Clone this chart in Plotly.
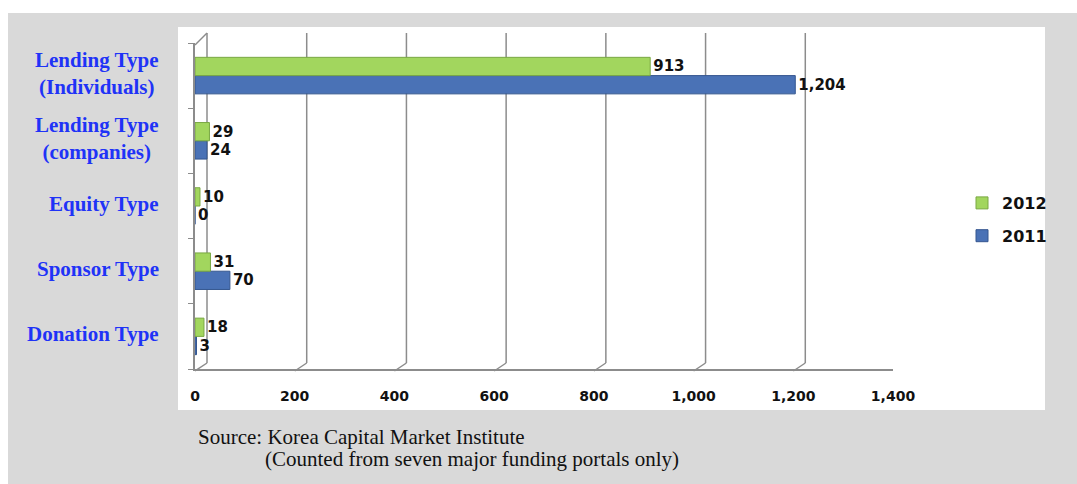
import plotly.graph_objects as go

categories = ["Lending Type<br>(Individuals)", "Lending Type<br>(companies)", "Equity Type", "Sponsor Type", "Donation Type"]
values_2012 = [913, 29, 10, 31, 18]
values_2011 = [1204, 24, 0, 70, 3]
x_ticks = [0, 200, 400, 600, 800, 1000, 1200, 1400]

W, H = 1077, 484
def px(x): return x / W
def py(y): return 1 - y / H

GREEN = "#a2d65e"
BLUE = "#4a72b6"
GRID = "#8c8c8c"

# reversed so first category is on top
cats_r = categories[::-1]
v12 = values_2012[::-1]
v11 = values_2011[::-1]

label_font = dict(family="DejaVu Sans", size=15, color="#111", weight="bold")

fig = go.Figure()
fig.add_trace(go.Bar(
    y=cats_r, x=v11, orientation="h", name="2011", legendgroup="b", legendrank=2,
    marker=dict(color=BLUE, line=dict(color="#34568f", width=1)),
    texttemplate="%{x:,}", textposition="outside", cliponaxis=False,
    textfont=label_font,
))
fig.add_trace(go.Bar(
    y=cats_r, x=v12, orientation="h", name="2012", legendgroup="a", legendrank=1,
    marker=dict(color=GREEN, line=dict(color="#7aa844", width=1)),
    texttemplate="%{x:,}", textposition="outside", cliponaxis=False,
    textfont=label_font,
))

X0, X1 = 195, 893          # front axis pixel span
DX, DY = 12, 8             # 3D depth offset of back wall
unit = 1400 / (X1 - X0)

shapes = [
    dict(type="rect", xref="paper", yref="paper", x0=px(8), x1=1, y0=0, y1=py(13),
         fillcolor="#d9d9d9", line=dict(width=0), layer="below"),
    dict(type="rect", xref="paper", yref="paper", x0=px(178), x1=px(1045), y0=py(410), y1=py(27),
         fillcolor="white", line=dict(width=0), layer="below"),
    dict(type="line", xref="paper", yref="paper", x0=px(X0), y0=py(45), x1=px(X0 + DX), y1=py(45 - DY - 4),
         line=dict(color=GRID, width=1.5)),
]
for v in x_ticks:
    # back-wall gridline
    shapes.append(dict(type="line", xref="x", yref="paper", x0=v + DX * unit, x1=v + DX * unit,
                       y0=py(371 - DY), y1=py(33), line=dict(color=GRID, width=1.5), layer="below"))
    # floor diagonal
    shapes.append(dict(type="line", xref="x", yref="paper", x0=v, x1=v + DX * unit,
                       y0=py(371), y1=py(371 - DY), line=dict(color=GRID, width=1.5), layer="below"))

annotations = []
for c in categories:
    annotations.append(dict(xref="paper", yref="y", x=px(161), y=c, text=c, showarrow=False,
                            xanchor="right", align="center", yshift=2,
                            font=dict(family="Liberation Serif", size=21, color="#1f33f7", weight="bold")))
annotations.append(dict(xref="paper", yref="paper", x=px(196), y=py(437), text="Source: Korea Capital Market Institute",
                        showarrow=False, xanchor="left", yanchor="middle",
                        font=dict(family="Liberation Serif", size=21, color="#111")))
annotations.append(dict(xref="paper", yref="paper", x=px(263), y=py(459), text="(Counted from seven major funding portals only)",
                        showarrow=False, xanchor="left", yanchor="middle",
                        font=dict(family="Liberation Serif", size=21, color="#111")))

fig.update_layout(
    width=W, height=H,
    margin=dict(l=0, r=0, t=0, b=0, autoexpand=False),
    paper_bgcolor="white",
    plot_bgcolor="rgba(0,0,0,0)",
    barmode="group", bargap=0.44, bargroupgap=0.0,
    showlegend=True,
    legend=dict(x=px(962), y=py(186), xanchor="left", yanchor="top", traceorder="grouped",
                tracegroupgap=9, bgcolor="rgba(0,0,0,0)",
                font=dict(family="DejaVu Sans", size=16, color="#111", weight="bold"),
                itemwidth=30),
    xaxis=dict(domain=[px(X0), px(X1)], range=[0, 1400], tickvals=x_ticks, tickformat=",",
               showgrid=False, zeroline=False, showline=True, linecolor=GRID, linewidth=1.5,
               ticks="", ticklabelstandoff=13,
               tickfont=dict(family="DejaVu Sans", size=14, color="#111", weight="bold")),
    yaxis=dict(domain=[py(369), py(43)], showgrid=False, zeroline=False, showline=True,
               linecolor=GRID, linewidth=1.5, ticks="outside", tickson="boundaries", ticklen=5,
               tickcolor=GRID, showticklabels=False),
    shapes=shapes,
    annotations=annotations,
)

fig.write_html("out.html")
